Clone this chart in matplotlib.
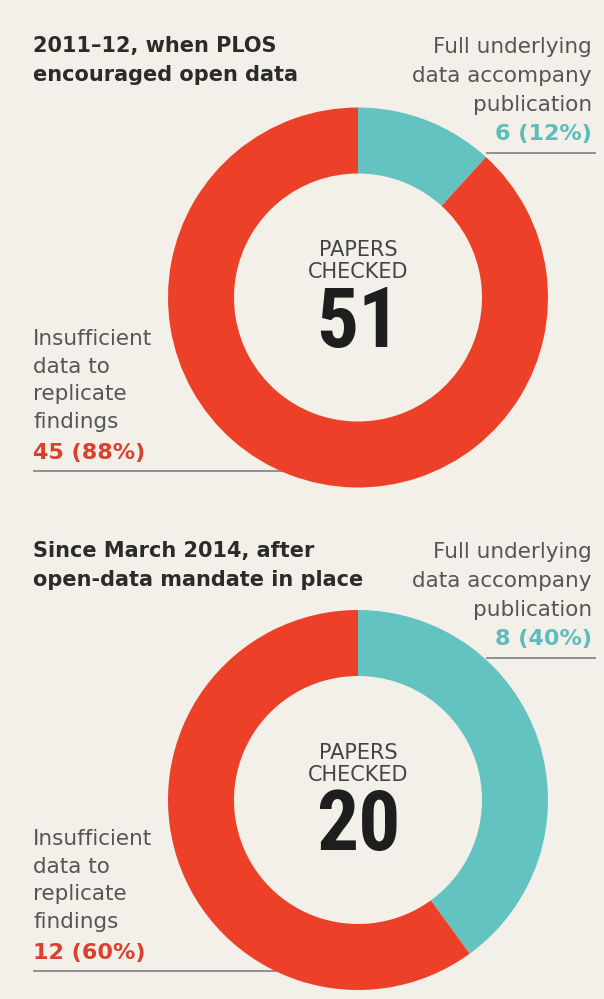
import matplotlib
matplotlib.use("Agg")
import matplotlib.pyplot as plt
from matplotlib import font_manager

# ---------------- data ----------------
categories = ["Full underlying\ndata accompany\npublication",
              "Insufficient\ndata to\nreplicate\nfindings"]
titles = ["2011\u201312, when PLOS\nencouraged open data",
          "Since March 2014, after\nopen-data mandate in place"]
values_2011 = [6, 45]
values_2014 = [8, 12]
center_label = "PAPERS\nCHECKED"

# ---------------- style ----------------
BG = "#F3F0E9"
RED = "#EC4128"
CYAN = "#62C3C1"
RED_TXT = "#D9402E"
CYAN_TXT = "#5CBDBB"
GRAY_TXT = "#555555"
TITLE_TXT = "#2B2B2B"
LINE_C = "#8A8A8A"

fonts = font_manager.fontManager.ttflist
names = {f.name for f in fonts}
BIG_FONT = dict(family="DejaVu Sans", fontsize=48)
for cand in ["Liberation Sans Narrow", "Roboto Condensed",
             "Open Sans Condensed", "Noto Sans Condensed"]:
    if cand in names:
        BIG_FONT = dict(family=cand, fontsize=60)
        break
else:
    if any(f.name == "DejaVu Sans" and f.stretch == "condensed" for f in fonts):
        BIG_FONT = dict(family="DejaVu Sans", fontstretch="condensed",
                        fontsize=54)

W, H = 604, 999
fig = plt.figure(figsize=(W / 100, H / 100), dpi=100, facecolor=BG)
ax = fig.add_axes([0, 0, 1, 1])
ax.set_facecolor(BG)


def Y(y):
    return H - y


def panel(values, title, cy, dy_top, dy_left, dy_mid):
    total = sum(values)
    cx = 358
    ax.pie(values, colors=[CYAN, RED], startangle=90, counterclock=False,
           radius=190, center=(cx, Y(cy)),
           wedgeprops=dict(width=66, edgecolor="none", linewidth=0),
           frame=True)
    pct = [round(100 * v / total) for v in values]
    # title (anchor = baseline of last line)
    ax.text(33, Y(81 + dy_top), title, ha="left", va="baseline",
            fontsize=15, fontweight="bold", color=TITLE_TXT,
            linespacing=1.58, family="DejaVu Sans")
    # right label (first category)
    ax.text(592, Y(111 + dy_top), categories[0], ha="right", va="baseline",
            fontsize=15.5, color=GRAY_TXT, linespacing=1.55,
            multialignment="right", family="DejaVu Sans")
    ax.text(592, Y(140 + dy_top), f"{values[0]} ({pct[0]}%)", ha="right",
            va="baseline", fontsize=16, fontweight="bold", color=CYAN_TXT)
    ax.plot([486, 596], [Y(153 + dy_top), Y(153 + dy_top)], color=LINE_C,
            lw=1.3, zorder=0.5, solid_capstyle="butt")
    # left label (second category)
    ax.text(33, Y(428 + dy_left), categories[1], ha="left", va="baseline",
            fontsize=15.5, color=GRAY_TXT, linespacing=1.48,
            family="DejaVu Sans")
    ax.text(33, Y(459 + dy_left), f"{values[1]} ({pct[1]}%)", ha="left",
            va="baseline", fontsize=16, fontweight="bold", color=RED_TXT)
    ax.plot([33, 330], [Y(471 + dy_left), Y(471 + dy_left)], color=LINE_C,
            lw=1.3, zorder=0.5, solid_capstyle="butt")
    # centre
    ax.text(cx, Y(278 + dy_mid), center_label, ha="center", va="baseline",
            fontsize=15, color="#444444", linespacing=1.1,
            multialignment="center")
    ax.text(cx, Y(347 + dy_mid), str(total), ha="center", va="baseline",
            fontweight="bold", color="#1E1E1E", **BIG_FONT)


panel(values_2011, titles[0], 297.5, 0, 0, 0)
panel(values_2014, titles[1], 800, 505, 500, 503)

ax.set_xlim(0, W)
ax.set_ylim(0, H)
ax.set_aspect("equal")
ax.axis("off")

fig.savefig("out.png", dpi=100, facecolor=BG)
